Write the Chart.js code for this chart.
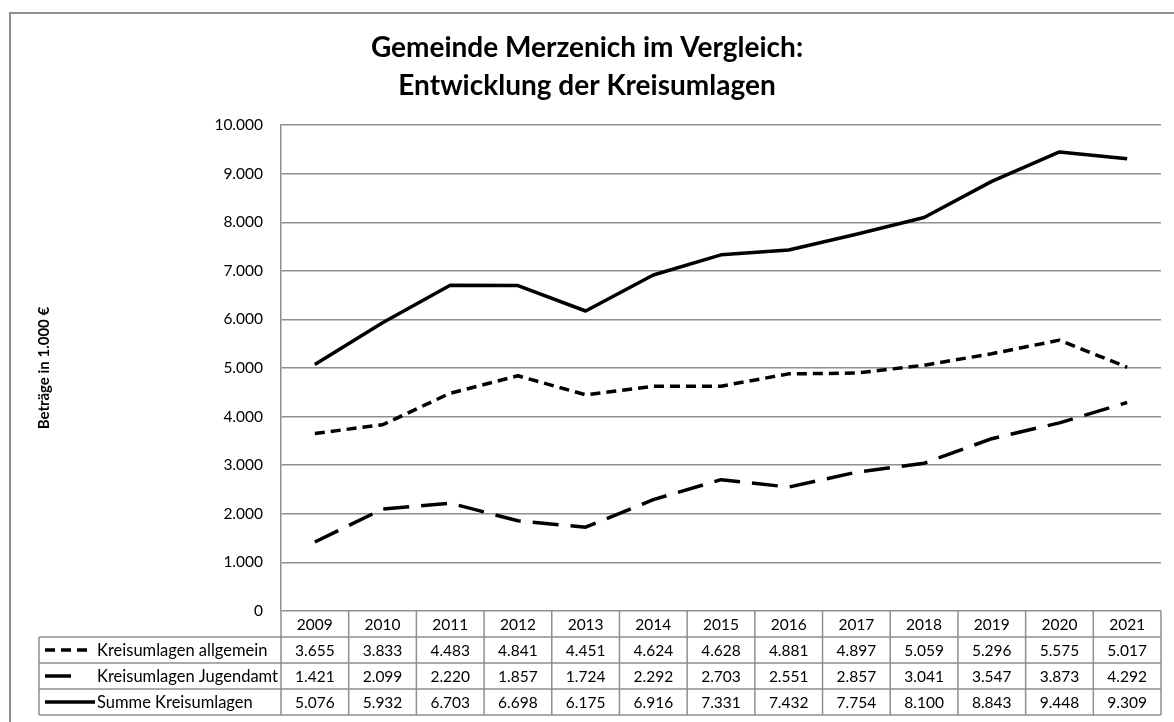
<!DOCTYPE html>
<html>
<head>
<meta charset="utf-8">
<script src="https://cdn.jsdelivr.net/npm/chart.js@4.4.1/dist/chart.umd.min.js"></script>
<style>
  html, body { margin: 0; padding: 0; background: #fff; }
  canvas { display: block; }
</style>
</head>
<body>
<canvas id="c" width="1174" height="722"></canvas>
<script>
// ---- data ----
const years = ['2009','2010','2011','2012','2013','2014','2015','2016','2017','2018','2019','2020','2021'];
const kreisumlagenAllgemein = [3655, 3833, 4483, 4841, 4451, 4624, 4628, 4881, 4897, 5059, 5296, 5575, 5017];
const kreisumlagenJugendamt = [1421, 2099, 2220, 1857, 1724, 2292, 2703, 2551, 2857, 3041, 3547, 3873, 4292];
const summeKreisumlagen = [5076, 5932, 6703, 6698, 6175, 6916, 7331, 7432, 7754, 8100, 8843, 9448, 9309];
const seriesNames = ['Kreisumlagen allgemein', 'Kreisumlagen Jugendamt', 'Summe Kreisumlagen'];
const titleLines = ['Gemeinde Merzenich im Vergleich:', 'Entwicklung der Kreisumlagen'];
const yAxisTitle = 'Beträge in 1.000 €';

function fmt(n) {
  const s = String(Math.round(n));
  return s.replace(/\B(?=(\d{3})+(?!\d))/g, '.');
}

const FONT = 'Lato, "Open Sans", "DejaVu Sans", sans-serif';
const GRID = '#8f8f8f';
const dashes = [[10, 6], [26, 12], []];

const tablePlugin = {
  id: 'dataTable',
  beforeDraw(chart) {
    const ctx = chart.ctx;
    ctx.save();
    ctx.strokeStyle = GRID;
    ctx.lineWidth = 2;
    ctx.beginPath();
    ctx.moveTo(10, 722);
    ctx.lineTo(10, 13);
    ctx.lineTo(1174, 13);
    ctx.stroke();
    ctx.restore();
  },
  afterDraw(chart) {
    const ctx = chart.ctx;
    const xs = chart.scales.x;
    const area = chart.chartArea;
    const n = years.length;
    const step = (area.right - area.left) / n;
    const top = area.bottom;
    const rowH = 26;
    const rows = [top, top + rowH, top + 2 * rowH, top + 3 * rowH, top + 4 * rowH];
    const legendLeft = 39;
    ctx.save();
    ctx.strokeStyle = GRID;
    ctx.lineWidth = 1.5;
    ctx.beginPath();
    ctx.moveTo(area.left, rows[1]); ctx.lineTo(area.right, rows[1]);
    for (let r = 1; r <= 4; r++) {
      ctx.moveTo(legendLeft, rows[r]); ctx.lineTo(area.right, rows[r]);
    }
    ctx.moveTo(legendLeft, rows[1]); ctx.lineTo(legendLeft, rows[4]);
    for (let i = 0; i <= n; i++) {
      const x = i === n ? area.right : xs.getPixelForValue(i) - step / 2;
      ctx.moveTo(x, rows[0]); ctx.lineTo(x, rows[4]);
    }
    ctx.stroke();

    ctx.fillStyle = '#000';
    ctx.font = '15.5px ' + FONT;
    ctx.textAlign = 'center';
    ctx.textBaseline = 'middle';
    const data = [kreisumlagenAllgemein, kreisumlagenJugendamt, summeKreisumlagen];
    years.forEach((y, i) => {
      const cx = xs.getPixelForValue(i);
      ctx.fillText(y, cx, (rows[0] + rows[1]) / 2 + 1);
      data.forEach((arr, r) => {
        ctx.fillText(fmt(arr[i]), cx, (rows[r + 1] + rows[r + 2]) / 2 + 1);
      });
    });
    ctx.textAlign = 'left';
    ctx.font = '16.5px ' + FONT;
    seriesNames.forEach((name, r) => {
      const cy = (rows[r + 1] + rows[r + 2]) / 2;
      ctx.fillText(name, 97, cy + 1);
      ctx.save();
      ctx.strokeStyle = '#000';
      ctx.lineWidth = 3.5;
      ctx.setLineDash(dashes[r]);
      ctx.beginPath();
      const x2 = r === 0 ? 91 : (r === 1 ? 78 : 95);
      ctx.moveTo(45, cy); ctx.lineTo(x2, cy);
      ctx.stroke();
      ctx.restore();
    });
    ctx.restore();
  }
};

new Chart(document.getElementById('c'), {
  type: 'line',
  data: {
    labels: years,
    datasets: [
      { label: seriesNames[0], data: kreisumlagenAllgemein, borderDash: dashes[0] },
      { label: seriesNames[1], data: kreisumlagenJugendamt, borderDash: dashes[1] },
      { label: seriesNames[2], data: summeKreisumlagen, borderDash: dashes[2] }
    ].map(d => Object.assign(d, {
      borderColor: '#000', backgroundColor: '#000', borderWidth: 3.5,
      pointRadius: 0, pointHoverRadius: 0, tension: 0, fill: false,
      borderCapStyle: 'butt', borderJoinStyle: 'round'
    }))
  },
  options: {
    responsive: false,
    devicePixelRatio: 1,
    animation: false,
    events: [],
    layout: { padding: { left: 13, right: 13, top: 29, bottom: 111 } },
    plugins: {
      legend: { display: false },
      tooltip: { enabled: false },
      title: {
        display: true,
        text: titleLines,
        color: '#000',
        font: { family: FONT, size: 28, weight: 'bold', lineHeight: 1.36 },
        padding: { top: 0, bottom: 20 }
      }
    },
    scales: {
      x: {
        display: false,
        offset: true
      },
      y: {
        min: 0, max: 10000,
        afterFit(s) { s.width = 268; },
        ticks: {
          stepSize: 1000,
          color: '#000',
          font: { family: FONT, size: 15.5 },
          padding: 18,
          callback: v => fmt(v)
        },
        grid: { color: GRID, lineWidth: 1.5, drawTicks: false },
        border: { display: true, color: GRID, width: 1.5 },
        title: {
          display: true,
          text: yAxisTitle,
          color: '#000',
          font: { family: FONT, size: 15, weight: 'bold' },
          padding: { top: 22, bottom: 0 }
        }
      }
    }
  },
  plugins: [tablePlugin]
});
</script>
</body>
</html>
